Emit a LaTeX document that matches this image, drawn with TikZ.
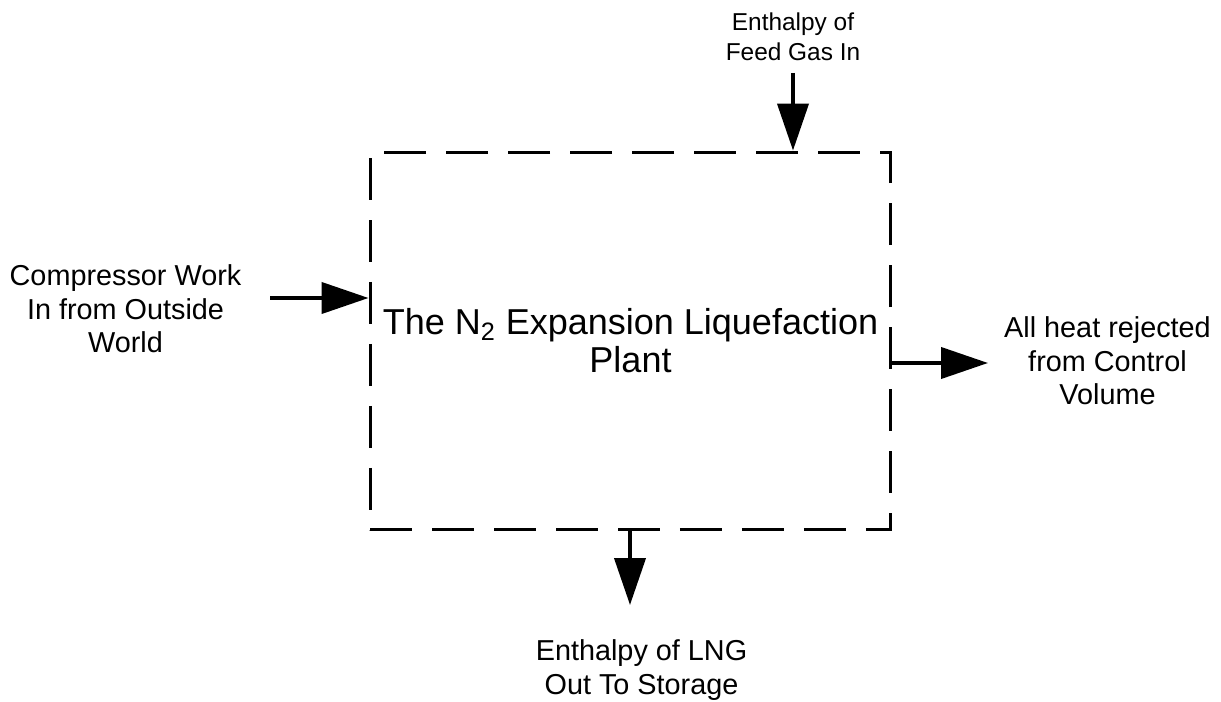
\documentclass[tikz,border=0pt]{standalone}
\usepackage{fontspec}
\setmainfont{Liberation Sans}
\usepackage{tikz}
\usetikzlibrary{arrows.meta,positioning}
\tikzset{
  plantbox/.style={draw,line width=1.7pt,dash pattern=on 0.84cm off 0.4cm,
    minimum width=10.42cm,minimum height=7.56cm,align=center,
    font=\fontsize{20.5}{21.6}\selectfont},
  flowlabel/.style={align=center,font=\fontsize{16.4}{19}\selectfont},
  smalllabel/.style={align=center,font=\fontsize{13.9}{17}\selectfont},
  flowarrow/.style={-{Triangle[length=0.94cm,width=0.62cm]},line width=2.3pt}
}
\begin{document}
\begin{tikzpicture}[x=0.02cm,y=-0.02cm]
  \useasboundingbox (0,0) rectangle (1221,702);
  \node[plantbox] (plant) at (630.5,341) {The N\textsubscript{2} Expansion Liquefaction\\Plant};
  \node[flowlabel] (worklabel) at (125.5,309) {Compressor Work\\In from Outside\\World};
  \node[smalllabel] (feedlabel) at (793,37) {Enthalpy of\\Feed Gas In};
  \node[flowlabel] (heatlabel) at (1107.5,361) {All heat rejected\\from Control\\Volume};
  \node[flowlabel] (lnglabel) at (641.5,670) {Enthalpy of LNG\\Out To Storage};
  \coordinate (workstart) at (270,298);
  \coordinate (feedstart) at (793,73);
  \coordinate (heatend) at (988,363);
  \coordinate (lngend) at (630,605);
  \draw[flowarrow] (workstart) -- (workstart -| plant.west);
  \draw[flowarrow] (feedstart) -- (feedstart |- plant.north);
  \draw[flowarrow] (heatend -| plant.east) -- (heatend);
  \draw[flowarrow] (lngend |- plant.south) -- (lngend);
\end{tikzpicture}
\end{document}
